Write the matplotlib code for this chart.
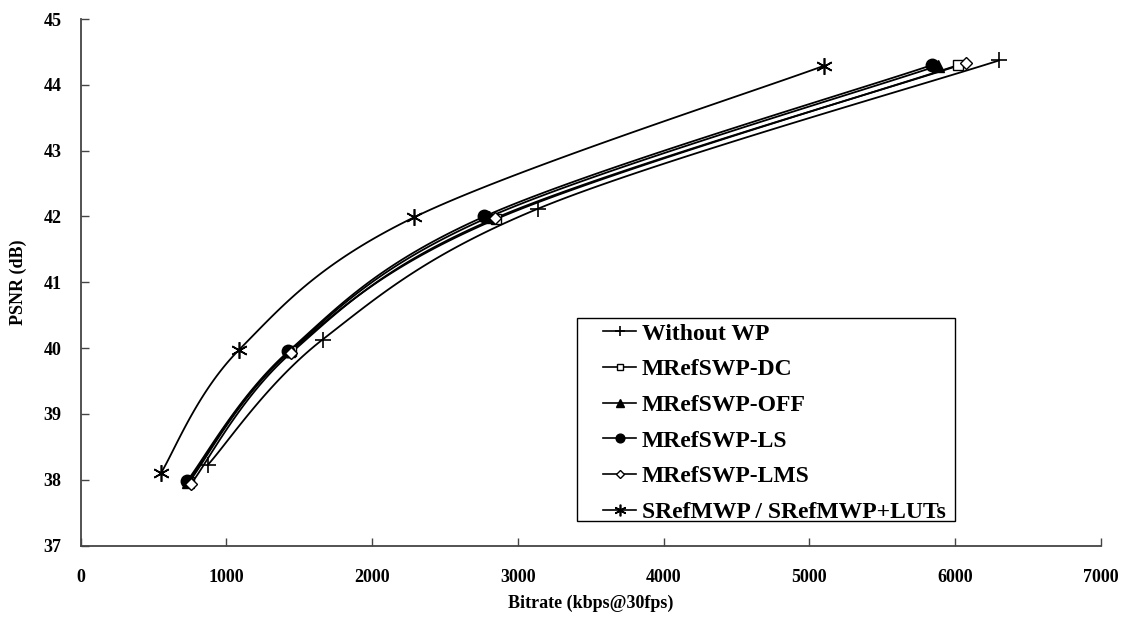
import numpy as np
import matplotlib
matplotlib.use("Agg")
import matplotlib.pyplot as plt
from matplotlib.lines import Line2D
from matplotlib.patches import Rectangle

# ---- data ----
series_names = ["Without WP", "MRefSWP-DC", "MRefSWP-OFF", "MRefSWP-LS",
                "MRefSWP-LMS", "SRefMWP / SRefMWP+LUTs"]
without_wp_x = [870, 1660, 3140, 6300]
without_wp_y = [38.22, 40.13, 42.12, 44.37]
dc_x = [745, 1440, 2850, 6020]
dc_y = [37.97, 39.95, 41.96, 44.30]
off_x = [735, 1432, 2800, 5880]
off_y = [37.97, 39.95, 41.99, 44.29]
ls_x = [730, 1425, 2770, 5840]
ls_y = [37.98, 39.95, 42.00, 44.30]
lms_x = [758, 1445, 2840, 6075]
lms_y = [37.94, 39.93, 41.97, 44.33]
sref_x = [550, 1085, 2290, 5100]
sref_y = [38.10, 39.97, 41.99, 44.29]

xticks = [0, 1000, 2000, 3000, 4000, 5000, 6000, 7000]
yticks = [37, 38, 39, 40, 41, 42, 43, 44, 45]

FONT = "Liberation Serif"
plt.rcParams['font.family'] = [FONT, 'DejaVu Serif']

W, H = 1130, 619
fig = plt.figure(figsize=(W / 100, H / 100), dpi=100)
AX_L, AX_R, AX_T, AX_B = 80.7, 1101.0, 19.0, 545.5
ax = fig.add_axes([AX_L / W, 1 - AX_B / H, (AX_R - AX_L) / W, (AX_B - AX_T) / H])
ax.set_xlim(0, 7000)
ax.set_ylim(37, 45)

# scale factors for smoothing in (approximate) pixel space
SX = (AX_R - AX_L) / 7000.0
SY = (AX_B - AX_T) / 8.0


def smooth(xs, ys, n=40):
    P = np.column_stack([np.asarray(xs, float) * SX, np.asarray(ys, float) * SY])
    pts = [P[0]] + list(P) + [P[-1]]
    out = []
    for i in range(1, len(pts) - 2):
        p0, p1, p2, p3 = pts[i - 1], pts[i], pts[i + 1], pts[i + 2]
        b1 = p1 + (p2 - p0) / 6.0
        b2 = p2 - (p3 - p1) / 6.0
        t = np.linspace(0, 1, n)[:, None]
        seg = ((1 - t) ** 3) * p1 + 3 * ((1 - t) ** 2) * t * b1 + 3 * (1 - t) * t ** 2 * b2 + t ** 3 * p2
        out.append(seg if i == 1 else seg[1:])
    out = np.vstack(out)
    return out[:, 0] / SX, out[:, 1] / SY


asterisk = (6, 2, 0)
styles = [
    dict(marker='+', ms=11, mfc='black', mew=1.2),
    dict(marker='s', ms=7, mfc='white', mew=1.0),
    dict(marker='^', ms=8, mfc='black', mew=1.0),
    dict(marker='o', ms=9, mfc='black', mew=1.0),
    dict(marker='D', ms=6, mfc='white', mew=1.0),
    dict(marker=asterisk, ms=12, mfc='black', mew=1.2),
]
data = [(without_wp_x, without_wp_y), (dc_x, dc_y), (off_x, off_y),
        (ls_x, ls_y), (lms_x, lms_y), (sref_x, sref_y)]

handles = []
for name, (xs, ys), st in zip(series_names, data, styles):
    sx, sy = smooth(xs, ys)
    ax.plot(sx, sy, color='black', lw=1.3, zorder=2)
    ax.plot(xs, ys, linestyle='none', color='black', mec='black', zorder=3, **st)
    lst = dict(st)
    lst['ms'] = st['ms'] * 0.7
    handles.append(Line2D([], [], color='black', lw=1.2, label=name, **lst))

for s in ['top', 'right']:
    ax.spines[s].set_visible(False)
for s in ['left', 'bottom']:
    ax.spines[s].set_color('#444444')
    ax.spines[s].set_linewidth(1.3)

ax.set_xticks(xticks)
ax.set_yticks(yticks)
ax.tick_params(direction='in', length=6, width=1.0, color='#444444')
ax.tick_params(axis='x', pad=17)
ax.tick_params(axis='y', pad=14)
for lab in ax.get_xticklabels() + ax.get_yticklabels():
    lab.set_fontweight('bold')
    lab.set_fontsize(13)

ax.set_xlabel("Bitrate (kbps@30fps)", fontsize=13, fontweight='bold', labelpad=6)
ax.set_ylabel("PSNR (dB)", fontsize=13, fontweight='bold', labelpad=12)


def ax_x(px):
    return (px - AX_L) / (AX_R - AX_L)


def ax_y(py):
    return (AX_B - py) / (AX_B - AX_T)


LEG_FS = 17
leg = ax.legend(handles=handles, loc='upper left',
                bbox_to_anchor=(ax_x(603), ax_y(323)),
                borderaxespad=0, frameon=False, handlelength=1.4,
                handletextpad=0.25, labelspacing=0.6, borderpad=0,
                prop=dict(family=FONT, weight='bold', size=LEG_FS))

fig.canvas.draw()
bb = leg.get_window_extent(fig.canvas.get_renderer())
right_px = bb.x1 + 9
box_l, box_t, box_b = 577, 318, 521
rect = Rectangle((ax_x(box_l), ax_y(box_b)),
                 ax_x(right_px) - ax_x(box_l),
                 ax_y(box_t) - ax_y(box_b),
                 transform=ax.transAxes, facecolor='white', edgecolor='black',
                 lw=1.0, zorder=4)
ax.add_patch(rect)
leg.set_zorder(5)

fig.savefig("out.png", dpi=100)
